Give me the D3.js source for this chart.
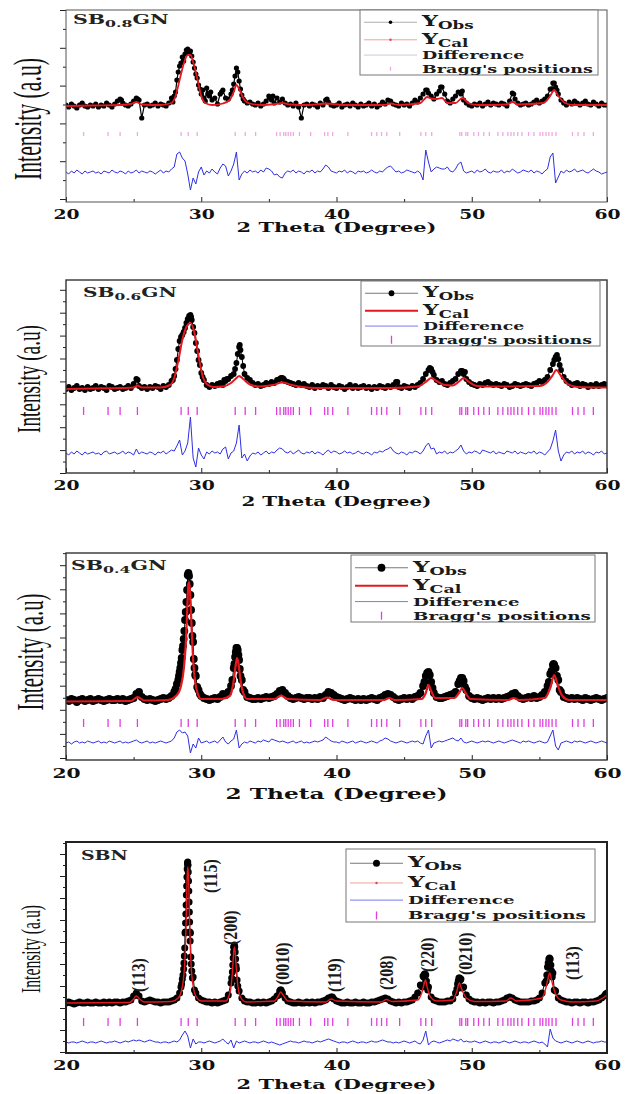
<!DOCTYPE html>
<html>
<head>
<meta charset="utf-8">
<script src="https://cdn.jsdelivr.net/npm/d3@7/dist/d3.min.js"></script>
<style>
  body { margin: 0; background: #fff; }
  svg { display: block; }
</style>
</head>
<body>
<svg width="630" height="1094"></svg>
<script>
// measuring grid of the base arrays (2theta, degrees)
var thetaStart = 20;
var thetaStep = 0.2;
var xMajor = [20, 30, 40, 50, 60];
var xMinor = [25, 35, 45, 55];
var xTitle = "2 Theta (Degree)";
var yTitle = "Intensity (a.u)";
var legendLabels = ["Obs", "Cal", "Difference", "Bragg's positions"];

var braggPos = [21.30, 23.11, 24.00, 25.28, 28.51, 29.04, 29.70, 32.51, 33.25, 34.02, 35.57, 35.83,
    36.10, 36.25, 36.43, 36.62, 36.81, 37.26, 38.09, 39.12, 39.36, 39.72, 40.84, 42.59, 42.98, 43.33,
    43.72, 44.67, 46.24, 46.60, 47.04, 49.12, 49.26, 49.56, 49.70, 50.15, 50.50, 50.89, 51.30, 51.93,
    52.30, 52.67, 52.90, 53.12, 53.40, 53.71, 54.20, 54.60, 55.05, 55.25, 55.49, 55.70, 55.94, 56.23,
    57.45, 57.86, 58.30, 58.99];

// ---- SB0.8GN ----
var obs08 = [
    97, 95, 98, 96, 94, 97, 99, 96, 95, 97,
    96, 98, 95, 97, 96, 99, 97, 95, 98, 101,
    103, 99, 97, 96, 98, 101, 104, 102, 84, 97,
    98, 96, 97, 99, 96, 98, 97, 96, 99, 104,
    106, 122, 136, 145, 148, 153, 151, 140, 128, 117,
    108, 104, 114, 106, 102, 104, 98, 108, 112, 104,
    103, 108, 118, 134, 121, 107, 101, 99, 100, 98,
    97, 99, 96, 98, 101, 106, 102, 99, 104, 100,
    103, 99, 97, 98, 96, 99, 95, 84, 97, 98,
    96, 98, 97, 95, 99, 97, 102, 100, 97, 96,
    97, 99, 95, 97, 98, 96, 99, 97, 95, 98,
    96, 97, 99, 96, 98, 95, 97, 100, 98, 102,
    101, 98, 97, 96, 99, 97, 98, 96, 99, 102,
    100, 104, 108, 112, 109, 106, 103, 108, 111, 115,
    108, 101, 99, 103, 106, 110, 108, 102, 99, 97,
    96, 98, 97, 99, 96, 98, 100, 97, 99, 98,
    97, 99, 98, 96, 101, 109, 103, 99, 97, 98,
    99, 97, 98, 100, 102, 99, 101, 103, 106, 113,
    119, 115, 108, 102, 99, 97, 100, 98, 101, 99,
    97, 99, 101, 98, 97, 100, 98, 96, 99, 97,
    97];
var peaks08 = [[24.1, 102], [25.3, 103], [27.9, 100], [28.1, 110], [28.3, 130], [28.5, 139], [28.7, 141],
    [28.9, 152], [29.1, 149], [29.3, 146], [29.5, 134], [29.7, 124], [29.9, 113], [30.1, 112], [30.3, 101],
    [30.5, 108], [30.7, 110], [31.5, 110], [32.3, 112], [32.5, 126], [32.7, 130], [32.9, 113], [33.1, 103],
    [35.1, 104], [35.3, 106], [39.3, 103], [46.7, 112], [47.7, 115], [49.3, 111], [53.1, 108], [55.9, 113],
    [56.1, 119], [56.3, 112]];
var cal08 = [[20, 96], [22, 96.5], [24, 97], [24.8, 98], [25.2, 100], [25.6, 97.5], [27, 97], [27.8, 99],
    [28.1, 106], [28.4, 122], [28.7, 138], [29.0, 147], [29.2, 147], [29.4, 140], [29.7, 124], [30.0, 106],
    [30.3, 99], [30.8, 97], [31.6, 98.5], [32.1, 102], [32.4, 110], [32.6, 117], [32.8, 113], [33.1, 104],
    [33.6, 98.5], [34.5, 97], [35.5, 98], [36, 99], [36.6, 97.5], [38, 97], [39.3, 98.5], [40.5, 97],
    [43.5, 97], [44, 98.5], [44.6, 97], [46.2, 99], [46.7, 105], [47.0, 103.5], [47.4, 103], [47.8, 104],
    [48.2, 99], [48.8, 99], [49.3, 104], [49.8, 98.5], [50.5, 97], [52.6, 97.5], [53, 100], [53.4, 97.5],
    [55.3, 99], [55.8, 106], [56.1, 112], [56.4, 106], [56.9, 99], [57.5, 97], [60, 97]];
var diff08 = [
    30, 28, 31, 29, 32, 30, 28, 31, 29, 30,
    31, 29, 30, 28, 31, 30, 29, 32, 30, 29,
    31, 30, 28, 31, 29, 30, 32, 29, 31, 30,
    29, 31, 30, 28, 30, 32, 29, 31, 30, 33,
    35, 48, 50, 44, 41, 28, 12, 24, 18, 30,
    35, 27, 31, 29, 33, 30, 28, 34, 38, 36,
    26, 31, 38, 50, 22, 28, 31, 29, 32, 30,
    31, 29, 32, 30, 34, 33, 31, 27, 28, 25,
    24, 29, 31, 30, 32, 29, 31, 30, 28, 31,
    30, 32, 29, 31, 30, 33, 37, 35, 31, 30,
    29, 31, 30, 32, 29, 31, 30, 28, 31, 30,
    31, 29, 30, 32, 30, 29, 31, 30, 33, 35,
    36, 33, 30, 31, 29, 30, 32, 31, 30, 29,
    31, 29, 22, 52, 40, 30, 33, 35, 34, 33,
    33, 35, 31, 30, 33, 38, 40, 31, 29, 30,
    31, 29, 32, 30, 31, 33, 30, 29, 31, 30,
    30, 32, 29, 31, 30, 33, 31, 29, 30, 32,
    31, 30, 32, 29, 31, 30, 28, 31, 33, 45,
    49, 19, 25, 31, 29, 32, 30, 31, 33, 30,
    31, 32, 30, 29, 31, 33, 31, 30, 28, 29,
    30];

// ---- SB0.6GN ----
var obs06 = [
    84, 86, 83, 85, 87, 84, 85, 83, 86, 84,
    85, 87, 84, 86, 85, 83, 87, 86, 84, 85,
    86, 84, 85, 87, 85, 89, 94, 87, 85, 86,
    84, 86, 85, 87, 86, 84, 87, 86, 88, 92,
    97, 113, 132, 138, 145, 154, 158, 146, 130, 113,
    100, 93, 88, 86, 88, 87, 89, 90, 88, 92,
    94, 97, 99, 110, 126, 116, 99, 95, 93, 90,
    88, 89, 87, 88, 90, 89, 91, 90, 93, 94,
    95, 92, 91, 90, 89, 88, 90, 88, 89, 87,
    86, 88, 85, 87, 86, 88, 87, 85, 88, 86,
    85, 87, 86, 84, 86, 88, 85, 87, 85, 86,
    87, 85, 86, 84, 86, 85, 87, 86, 85, 87,
    86, 88, 91, 86, 85, 87, 86, 85, 87, 86,
    88, 90, 94, 99, 103, 104, 98, 93, 91, 92,
    89, 88, 90, 92, 94, 99, 102, 99, 94, 91,
    89, 88, 87, 89, 88, 90, 91, 89, 88, 89,
    88, 87, 89, 88, 86, 87, 89, 88, 87, 88,
    89, 88, 87, 89, 90, 92, 91, 93, 96, 103,
    109, 116, 114, 103, 96, 92, 90, 88, 89, 90,
    87, 89, 88, 86, 88, 87, 89, 87, 88, 89,
    88];
var peaks06 = [[25.3, 93], [27.9, 93], [28.1, 104], [28.3, 124], [28.5, 136], [28.7, 141], [28.9, 150],
    [29.1, 157], [29.25, 156], [29.3, 153], [29.5, 140], [29.7, 122], [29.9, 108], [30.1, 96], [31.7, 93],
    [31.9, 94], [32.5, 104], [32.7, 119], [32.85, 128], [32.9, 123], [33.1, 107], [35.9, 95], [36.1, 94],
    [44.5, 91], [46.9, 105], [47.1, 101], [49.3, 102], [49.5, 101], [56.1, 113], [56.3, 118], [56.5, 108]];
var cal06 = [[20, 84], [22, 84.5], [24, 85], [25.0, 85.5], [25.3, 87.5], [25.6, 85.5], [27.0, 85.5],
    [27.7, 88], [28.0, 95], [28.3, 112], [28.6, 133], [28.9, 146], [29.2, 150], [29.5, 140], [29.8, 117],
    [30.1, 97], [30.4, 89], [30.9, 86], [31.6, 86.5], [32.2, 90], [32.6, 95], [32.8, 97], [33.1, 94],
    [33.6, 88.5], [34.3, 86.5], [35.3, 88], [36.0, 90.5], [36.7, 88], [37.5, 86], [38.5, 85], [44, 85],
    [46.0, 86.5], [46.6, 91], [47.0, 95], [47.4, 92], [48.0, 88], [48.6, 87.5], [49.1, 92], [49.4, 95],
    [49.8, 91], [50.4, 87], [51.5, 86.5], [55.0, 87], [55.6, 91], [56.0, 98], [56.25, 103], [56.6, 97],
    [57.1, 89], [57.8, 86], [60, 85.5]];
var diff06 = [
    20, 18, 21, 19, 22, 20, 18, 21, 19, 20,
    21, 19, 20, 18, 21, 22, 19, 20, 21, 19,
    20, 22, 19, 21, 20, 18, 24, 19, 21, 20,
    19, 21, 20, 18, 21, 20, 22, 19, 21, 23,
    22, 27, 33, 18, 22, 30, 56, 15, 6, 25,
    18, 14, 21, 19, 22, 20, 21, 19, 24, 26,
    14, 20, 22, 30, 48, 15, 19, 12, 17, 20,
    19, 21, 18, 20, 22, 19, 21, 20, 23, 25,
    24, 21, 20, 22, 19, 21, 23, 20, 19, 21,
    20, 22, 19, 21, 20, 18, 21, 23, 20, 22,
    21, 19, 20, 22, 20, 21, 19, 20, 22, 20,
    19, 21, 20, 18, 21, 20, 22, 21, 23, 24,
    26, 22, 20, 19, 21, 20, 18, 21, 20, 22,
    21, 19, 22, 27, 30, 24, 25, 19, 21, 20,
    22, 19, 21, 20, 22, 24, 28, 22, 19, 21,
    20, 22, 21, 19, 23, 22, 21, 20, 22, 19,
    21, 20, 19, 22, 21, 20, 22, 19, 21, 20,
    19, 21, 20, 22, 19, 21, 20, 18, 21, 24,
    32, 43, 22, 12, 18, 21, 20, 22, 19, 21,
    20, 22, 19, 21, 20, 18, 21, 20, 22, 19,
    20];

// ---- SB0.4GN ----
var obs04 = [
    60, 59, 61, 60, 58, 60, 61, 59, 60, 61,
    59, 60, 61, 60, 59, 60, 61, 60, 60, 61,
    60, 61, 59, 60, 61, 62, 66, 68, 63, 61,
    60, 61, 60, 59, 60, 61, 62, 61, 62, 64,
    68, 76, 88, 110, 140, 185, 165, 118, 84, 70,
    64, 62, 61, 60, 61, 62, 61, 63, 66, 65,
    68, 74, 92, 112, 100, 80, 68, 63, 62, 61,
    61, 62, 61, 62, 63, 62, 63, 64, 66, 69,
    70, 67, 64, 62, 61, 62, 63, 62, 61, 62,
    62, 61, 62, 61, 63, 62, 65, 68, 67, 65,
    63, 62, 61, 60, 61, 62, 61, 60, 61, 60,
    61, 60, 61, 62, 61, 60, 62, 63, 65, 66,
    65, 63, 61, 60, 61, 62, 61, 62, 61, 63,
    64, 67, 74, 84, 88, 78, 67, 63, 62, 62,
    63, 64, 65, 66, 68, 76, 82, 79, 70, 64,
    62, 61, 62, 61, 60, 61, 62, 61, 62, 61,
    62, 61, 62, 63, 64, 66, 67, 64, 62, 61,
    62, 63, 62, 64, 62, 63, 65, 68, 74, 86,
    95, 92, 80, 68, 63, 62, 61, 62, 61, 62,
    61, 60, 62, 61, 60, 61, 62, 61, 60, 61,
    62];
var peaks04 = [[28.1, 71], [28.3, 80], [28.35, 84], [28.45, 92], [28.5, 97], [28.55, 102], [28.65, 114],
    [28.7, 121], [28.75, 129], [28.85, 148], [28.9, 158], [28.95, 170], [29.05, 187], [29.1, 184],
    [29.15, 176], [29.25, 150], [29.3, 137], [29.35, 124], [29.45, 101], [29.5, 92], [29.55, 85],
    [29.7, 73], [29.9, 66], [32.3, 80], [32.45, 96], [32.5, 103], [32.55, 108], [32.65, 112], [32.7, 110],
    [32.75, 105], [32.85, 91], [32.9, 84], [33.1, 70], [46.5, 78], [46.7, 87], [46.9, 85], [47.1, 72],
    [49.1, 79], [49.3, 82], [49.5, 73], [55.7, 78], [55.9, 89], [56.05, 96], [56.1, 95], [56.3, 84],
    [56.5, 70]];
var cal04 = [[20, 58.5], [24.8, 59], [25.3, 63], [25.8, 59.5], [27.5, 60], [28.2, 65], [28.5, 74],
    [28.7, 90], [28.85, 115], [28.95, 145], [29.05, 176], [29.12, 178], [29.2, 160], [29.3, 128],
    [29.4, 100], [29.55, 78], [29.75, 66], [30.0, 61], [31.5, 61], [32.1, 64], [32.35, 75], [32.55, 95],
    [32.65, 102], [32.75, 97], [32.9, 80], [33.1, 67], [33.4, 61], [35.4, 61], [35.9, 64.5], [36.4, 61],
    [38.8, 60], [39.3, 62.5], [39.8, 60], [43.5, 60], [43.9, 62], [44.3, 60], [46.3, 61], [46.6, 67],
    [46.8, 75], [47.0, 69], [47.3, 62], [48.7, 62], [49.1, 68], [49.3, 72], [49.55, 67], [49.9, 61],
    [52.7, 60], [53.1, 62], [53.5, 60], [55.4, 62], [55.8, 72], [56.1, 85], [56.35, 75], [56.7, 64],
    [57.2, 60], [60, 60]];
var diff04 = [
    17, 18, 16, 18, 19, 17, 18, 17, 19, 18,
    17, 18, 19, 17, 18, 17, 19, 18, 17, 18,
    19, 17, 18, 17, 18, 19, 20, 18, 17, 18,
    19, 17, 18, 17, 18, 19, 18, 17, 18, 19,
    22, 28, 30, 27, 28, 24, 7, 16, 12, 22,
    17, 18, 19, 17, 18, 19, 17, 20, 23, 18,
    16, 19, 21, 30, 12, 16, 18, 17, 19, 18,
    17, 19, 18, 20, 19, 18, 21, 20, 19, 18,
    19, 18, 17, 18, 19, 17, 18, 19, 17, 18,
    17, 18, 19, 18, 19, 20, 23, 21, 19, 18,
    18, 17, 19, 18, 17, 18, 19, 17, 18, 19,
    18, 17, 18, 19, 18, 17, 19, 20, 22, 21,
    19, 18, 17, 18, 19, 18, 17, 18, 19, 18,
    19, 17, 16, 24, 30, 12, 17, 18, 19, 18,
    19, 20, 21, 22, 20, 19, 22, 18, 17, 18,
    19, 18, 17, 18, 19, 18, 19, 18, 17, 18,
    19, 18, 17, 18, 19, 20, 19, 18, 17, 19,
    18, 19, 18, 17, 18, 19, 18, 17, 18, 24,
    30, 14, 10, 17, 18, 19, 18, 17, 19, 18,
    19, 18, 17, 18, 19, 18, 17, 18, 19, 18,
    17];

// ---- SBN ----
var obsSBN = [
    50, 51, 50, 49, 50, 51, 50, 50, 51, 50,
    50, 51, 50, 50, 51, 50, 51, 50, 51, 51,
    50, 51, 51, 52, 53, 57, 60, 57, 52, 51,
    52, 53, 52, 51, 51, 50, 51, 51, 51, 52,
    53, 55, 60, 74, 120, 188, 120, 76, 60, 55,
    53, 52, 51, 51, 50, 51, 50, 51, 52, 53,
    58, 70, 106, 84, 62, 55, 52, 51, 51, 50,
    50, 51, 50, 51, 50, 51, 52, 54, 57, 62,
    60, 55, 52, 51, 50, 50, 51, 50, 50, 51,
    50, 51, 50, 51, 51, 52, 53, 55, 56, 54,
    52, 51, 50, 50, 51, 50, 50, 51, 50, 50,
    51, 50, 50, 51, 51, 52, 53, 54, 55, 54,
    52, 51, 50, 51, 50, 51, 51, 52, 53, 56,
    60, 68, 77, 78, 66, 56, 53, 52, 51, 51,
    51, 52, 52, 54, 60, 72, 74, 66, 58, 54,
    52, 51, 51, 50, 51, 50, 51, 51, 50, 51,
    51, 52, 53, 55, 56, 55, 53, 52, 51, 51,
    51, 51, 52, 52, 53, 55, 60, 70, 86, 94,
    80, 62, 55, 53, 52, 51, 51, 50, 51, 51,
    50, 51, 51, 50, 51, 51, 52, 53, 55, 57,
    60];
var peaksSBN = [[28.5, 66], [28.55, 69], [28.65, 78], [28.7, 84], [28.72, 90], [28.75, 97], [28.78, 105],
    [28.82, 121], [28.84, 130], [28.86, 139], [28.88, 148], [28.9, 158], [28.92, 167], [28.94, 176],
    [28.96, 184], [28.98, 190], [29.0, 191], [29.02, 188], [29.04, 181], [29.06, 172], [29.08, 162],
    [29.1, 151], [29.12, 141], [29.14, 131], [29.16, 121], [29.18, 112], [29.23, 96], [29.26, 89],
    [29.3, 82], [29.35, 75], [29.5, 63], [32.25, 75], [32.3, 81], [32.33, 88], [32.36, 95], [32.39, 101],
    [32.42, 106], [32.45, 108], [32.48, 106], [32.51, 101], [32.54, 94], [32.57, 87], [32.65, 73],
    [32.7, 67], [35.75, 58], [35.85, 63], [35.9, 63], [35.95, 61], [39.7, 56], [46.35, 66], [46.45, 76],
    [46.5, 79], [46.55, 79], [46.65, 72], [46.7, 67], [46.75, 63], [48.9, 64], [48.95, 69], [49.05, 75],
    [49.1, 75], [49.15, 73], [49.25, 65], [55.5, 72], [55.55, 78], [55.65, 90], [55.7, 94], [55.75, 95],
    [55.85, 88], [55.9, 82], [55.95, 76], [56.1, 63], [59.9, 59]];
var calSBN = [[20, 50], [24.7, 50.5], [25.0, 54], [25.2, 57], [25.45, 54], [25.8, 51], [27.8, 51.5],
    [28.3, 55], [28.6, 66], [28.8, 95], [28.9, 140], [28.97, 180], [29.02, 186], [29.08, 165],
    [29.15, 125], [29.25, 88], [29.4, 67], [29.6, 57], [30.0, 52], [31.8, 52], [32.15, 62], [32.3, 80],
    [32.42, 104], [32.47, 106], [32.55, 92], [32.7, 68], [32.9, 56], [33.3, 51], [35.4, 52], [35.7, 57],
    [35.87, 61], [36.05, 58], [36.4, 52], [39.2, 51], [39.6, 54], [40.0, 52], [43.3, 51], [43.7, 53.5],
    [44.1, 51.5], [46.0, 53], [46.3, 60], [46.5, 70], [46.58, 73], [46.7, 66], [46.95, 56], [47.4, 52],
    [48.6, 53], [48.9, 62], [49.08, 70], [49.25, 64], [49.6, 55], [50.2, 51.5], [52.5, 52], [52.9, 55],
    [53.3, 52], [55.2, 55], [55.5, 66], [55.7, 78], [55.77, 80], [55.9, 73], [56.2, 59], [56.6, 53],
    [57.5, 51], [59.2, 52], [59.7, 55], [60, 58]];
var diffSBN = [
    11, 10, 11, 11, 10, 11, 12, 11, 10, 11,
    11, 10, 11, 12, 11, 10, 11, 11, 12, 11,
    10, 11, 12, 11, 12, 13, 12, 13, 12, 11,
    12, 13, 12, 11, 11, 10, 11, 11, 10, 11,
    12, 11, 13, 18, 22, 17, 5, 14, 9, 11,
    11, 10, 11, 12, 11, 10, 11, 12, 14, 11,
    9, 13, 5, 12, 10, 11, 12, 11, 10, 11,
    11, 10, 11, 12, 11, 10, 11, 10, 9, 8,
    9, 10, 11, 12, 11, 11, 10, 11, 12, 11,
    11, 10, 11, 12, 11, 12, 13, 14, 13, 12,
    11, 10, 11, 11, 10, 11, 12, 11, 10, 11,
    11, 10, 11, 12, 11, 11, 12, 13, 12, 11,
    11, 10, 11, 10, 11, 12, 11, 10, 11, 12,
    10, 9, 13, 22, 8, 11, 12, 11, 10, 11,
    12, 13, 12, 14, 13, 12, 14, 11, 12, 11,
    11, 12, 11, 10, 11, 12, 11, 10, 11, 11,
    10, 11, 12, 11, 10, 11, 12, 11, 10, 11,
    11, 10, 11, 12, 11, 10, 11, 9, 6, 24,
    15, 12, 11, 10, 11, 12, 11, 10, 11, 12,
    11, 10, 11, 12, 11, 10, 11, 11, 12, 11,
    11];

// reflections marked on the SBN pattern
var hklNames = ["(113)", "(115)", "(200)", "(0010)", "(119)", "(208)", "(220)", "(0210)", "(113)"];
var hklTheta = [25.40, 30.73, 32.22, 36.07, 39.92, 43.78, 46.80, 49.56, 57.51];
var hklBase = [61, 160, 108, 68, 61, 63, 81, 78, 73];

var panels = [
    {id: "p08", name: ["SB", "0.8", "GN"], obs: obs08, peaks: peaks08, cal: cal08, diff: diff08,
        top: 10, bottom: 202, tick0: 3, tickStep: 37.8, braggY: 68, braggH: 4, braggColor: "#f0a8e0",
        dotR: 2.6, obsW: 1.2, calW: 1.8, frameColor: "#555", frameW: 1,
        legend: {x0: 360, y0: 10, x1: 598, y1: 75, textW: 171, faint: true},
        nameX: 73, nameY: 24, nameW: 96, labelX: 28, labelY: 119, labelLen: 122,
        titleY: 232, titleW: 200, fontTick: 12.5, fontTitle: 13},
    {id: "p06", name: ["SB", "0.6", "GN"], obs: obs06, peaks: peaks06, cal: cal06, diff: diff06,
        top: 280, bottom: 473, tick0: 0, tickStep: 22.9, braggY: 62, braggH: 8, braggColor: "#e03ee0",
        dotR: 2.9, obsW: 1, calW: 2, frameColor: "#333", frameW: 1.4,
        legend: {x0: 361, y0: 281, x1: 600, y1: 346, textW: 169},
        nameX: 83, nameY: 297, nameW: 94, labelX: 28, labelY: 379, labelLen: 108,
        titleY: 506, titleW: 190, fontTick: 12.5, fontTitle: 13},
    {id: "p04", name: ["SB", "0.4", "GN"], obs: obs04, peaks: peaks04, cal: cal04, diff: diff04,
        top: 553, bottom: 760, tick0: 2, tickStep: 24.1, braggY: 37, braggH: 8, braggColor: "#e03ee0",
        dotR: 3.9, obsW: 1, calW: 2.2, frameColor: "#333", frameW: 1.4,
        legend: {x0: 351, y0: 555, x1: 595, y1: 622, textW: 178},
        nameX: 71, nameY: 570, nameW: 96, labelX: 31, labelY: 652, labelLen: 117,
        titleY: 799, titleW: 222, fontTick: 13.5, fontTitle: 14.5},
    {id: "sbn", name: ["SBN", "", ""], obs: obsSBN, peaks: peaksSBN, cal: calSBN, diff: diffSBN,
        top: 842, bottom: 1053, tick0: 1, tickStep: 22, braggY: 31, braggH: 8, braggColor: "#e03ee0",
        dotR: 3.5, obsW: 1, calW: 1.4, frameColor: "#222", frameW: 2, hkl: true,
        legend: {x0: 346, y0: 849, x1: 595, y1: 922, textW: 178, thinCal: true},
        nameX: 81, nameY: 860, nameW: 47, labelX: 31, labelY: 949, labelLen: 88,
        titleY: 1089, titleW: 200, fontTick: 13, fontTitle: 13.5}
];

var plotLeft = 66, plotRight = 607;
var legendRows = [0.25, 0.52, 0.755, 0.965];
var boldFont = "'DejaVu Serif', serif";
var timesFont = "'Liberation Serif', 'Times New Roman', serif";

var svg = d3.select("svg");

var thetaOf = function(i) {
    return +(thetaStart + i * thetaStep).toFixed(2);
};

// squeeze/stretch a text to a measured width
var fitText = function(t, x, y, width, angle, ky) {
    var s = width / t.node().getBBox().width;
    t.attr("transform", "translate(" + x + "," + y + ") rotate(" + (angle || 0) + ") scale(" + s + "," + (ky || 1) + ")");
    return s;
};

var drawLegend = function(g, p) {
    var b = p.legend;
    var hh = b.y1 - b.y0;
    g.append("rect")
        .attr("x", b.x0).attr("y", b.y0)
        .attr("width", b.x1 - b.x0).attr("height", hh)
        .style("fill", "#fff").style("stroke", "#777").style("stroke-width", 1);

    var rowY = legendRows.map(function(f) { return b.y0 + f * hh; });
    var texts = [];
    legendLabels.forEach(function(lab, i) {
        var t = g.append("text")
            .style("font-family", boldFont).style("font-weight", "bold").style("fill", "#1a1a1a");
        if (i < 2) {
            t.append("tspan").text("Y").style("font-size", "14px");
            t.append("tspan").text(lab).style("font-size", "10.5px").attr("dy", 3);
        } else {
            t.text(lab).style("font-size", "11px");
        }
        texts.push(t);
    });
    var s = b.textW / texts[3].node().getBBox().width;
    texts.forEach(function(t, i) {
        t.attr("transform", "translate(" + (b.x0 + 62) + "," + rowY[i] + ") scale(" + s + ",1)");
    });

    var sx0 = b.x0 + 4, sx1 = b.x0 + 57, sxm = (sx0 + sx1) / 2;
    var sy = rowY.map(function(r) { return r - 4; });
    var faint = b.faint;

    g.append("line").attr("x1", sx0).attr("x2", sx1).attr("y1", sy[0]).attr("y2", sy[0])
        .style("stroke", faint ? "#999" : "#555").style("stroke-width", 0.8);
    g.append("circle").attr("cx", sxm).attr("cy", sy[0]).attr("r", faint ? 1.8 : p.dotR).style("fill", "#000");

    g.append("line").attr("x1", sx0).attr("x2", sx1).attr("y1", sy[1]).attr("y2", sy[1])
        .style("stroke", (faint || b.thinCal) ? "#f2a0a0" : "#e3191f")
        .style("stroke-width", (faint || b.thinCal) ? 1 : 2);
    if (faint || b.thinCal) {
        g.append("circle").attr("cx", sxm).attr("cy", sy[1]).attr("r", 1.2).style("fill", "#e04060");
    }

    g.append("line").attr("x1", sx0).attr("x2", sx1).attr("y1", sy[2]).attr("y2", sy[2])
        .style("stroke", faint ? "#c4c4d8" : "#6a6af0").style("stroke-width", 0.9);

    g.append("line").attr("x1", sxm).attr("x2", sxm)
        .attr("y1", sy[3] - p.braggH / 2).attr("y2", sy[3] + p.braggH / 2)
        .style("stroke", p.braggColor).style("stroke-width", 1.3);
};

var drawPanel = function(p) {
    var h = p.bottom - p.top;
    var x = d3.scaleLinear().domain([xMajor[0], xMajor[xMajor.length - 1]]).range([plotLeft, plotRight]);
    var y = d3.scaleLinear().domain([0, h]).range([p.bottom, p.top]);
    var g = svg.append("g").attr("class", "panel_" + p.id);

    g.append("clipPath").attr("id", "clip_" + p.id).append("rect")
        .attr("x", plotLeft).attr("y", p.top)
        .attr("width", plotRight - plotLeft).attr("height", h);
    var plot = g.append("g").attr("clip-path", "url(#clip_" + p.id + ")");

    // observed points: regular grid plus the extra points read on the peaks
    var obs = p.obs.map(function(v, i) { return [thetaOf(i), v]; })
        .concat(p.peaks)
        .sort(function(a, b) { return a[0] - b[0]; });
    var diff = p.diff.map(function(v, i) { return [thetaOf(i), v]; });

    var line = d3.line()
        .x(function(d) { return x(d[0]); })
        .y(function(d) { return y(d[1]); });
    var smooth = d3.line()
        .x(function(d) { return x(d[0]); })
        .y(function(d) { return y(d[1]); })
        .curve(d3.curveMonotoneX);

    plot.append("path").datum(obs).attr("d", line)
        .style("fill", "none").style("stroke", "#000").style("stroke-width", p.obsW);

    plot.selectAll("circle.obs").data(obs).enter().append("circle")
        .attr("class", "obs")
        .attr("cx", function(d) { return x(d[0]); })
        .attr("cy", function(d) { return y(d[1]); })
        .attr("r", p.dotR)
        .style("fill", "#000");

    plot.append("path").datum(p.cal).attr("d", smooth)
        .style("fill", "none").style("stroke", "#e3191f").style("stroke-width", p.calW);

    plot.append("path").datum(diff).attr("d", line)
        .style("fill", "none").style("stroke", "#2f2fe4").style("stroke-width", 1);

    plot.selectAll("line.bragg").data(braggPos).enter().append("line")
        .attr("class", "bragg")
        .attr("x1", function(d) { return x(d); })
        .attr("x2", function(d) { return x(d); })
        .attr("y1", y(p.braggY) - p.braggH / 2)
        .attr("y2", y(p.braggY) + p.braggH / 2)
        .style("stroke", p.braggColor).style("stroke-width", 1.3);

    // axes
    var majors = d3.range(p.tick0, h + 0.5, p.tickStep);
    var minors = majors.map(function(v) { return v + p.tickStep / 2; })
        .filter(function(v) { return v <= h; });

    var yMaj = g.append("g").attr("transform", "translate(" + plotLeft + ",0)")
        .call(d3.axisLeft(y).tickValues(majors).tickSize(6).tickFormat(""));
    var yMin = g.append("g").attr("transform", "translate(" + plotLeft + ",0)")
        .call(d3.axisLeft(y).tickValues(minors).tickSize(3).tickFormat(""));

    var xMin = g.append("g").attr("transform", "translate(0," + p.bottom + ")")
        .call(d3.axisBottom(x).tickValues(xMinor).tickSize(-3).tickFormat(""));
    var xMaj = g.append("g").attr("transform", "translate(0," + p.bottom + ")")
        .call(d3.axisBottom(x).tickValues(xMajor).tickSizeInner(-5).tickSizeOuter(0).tickPadding(8));

    [yMaj, yMin, xMin, xMaj].forEach(function(a) {
        a.select(".domain").remove();
        a.selectAll("line").style("stroke", "#222").style("stroke-width", 1);
    });

    xMaj.selectAll("text")
        .style("font-family", boldFont).style("font-weight", "bold")
        .style("font-size", p.fontTick + "px").style("fill", "#111")
        .attr("transform", "scale(1.5,1)");

    g.append("rect")
        .attr("x", plotLeft).attr("y", p.top)
        .attr("width", plotRight - plotLeft).attr("height", h)
        .style("fill", "none").style("stroke", p.frameColor).style("stroke-width", p.frameW);

    drawLegend(g, p);

    if (p.hkl) {
        hklNames.forEach(function(n, i) {
            g.append("text").text(n)
                .attr("text-anchor", "start")
                .attr("dominant-baseline", "central")
                .attr("transform", "translate(" + x(hklTheta[i]) + "," + y(hklBase[i]) + ") rotate(-90) scale(1,1.15)")
                .style("font-family", timesFont).style("font-weight", "bold")
                .style("font-size", "16px").style("fill", "#1a1a1a");
        });
    }

    // sample name with subscript
    var nm = g.append("text")
        .style("font-family", boldFont).style("font-weight", "bold").style("fill", "#222");
    nm.append("tspan").text(p.name[0]).style("font-size", "13px");
    if (p.name[1]) {
        nm.append("tspan").text(p.name[1]).style("font-size", "10px").attr("dy", 3);
        nm.append("tspan").text(p.name[2]).style("font-size", "13px").attr("dy", -3);
    }
    fitText(nm, p.nameX, p.nameY, p.nameW);

    var yl = g.append("text").text(yTitle)
        .attr("text-anchor", "middle").attr("dominant-baseline", "central")
        .style("font-family", timesFont).style("font-size", (p.labelLen / 5.6) + "px").style("fill", "#111");
    fitText(yl, p.labelX, p.labelY, p.labelLen, -90, 1.8);

    var xt = g.append("text").text(xTitle)
        .attr("text-anchor", "middle")
        .style("font-family", boldFont).style("font-weight", "bold")
        .style("font-size", p.fontTitle + "px").style("fill", "#111");
    fitText(xt, (plotLeft + plotRight) / 2, p.titleY, p.titleW);
};

panels.forEach(function(p) {
    drawPanel(p);
});
</script>
</body>
</html>
